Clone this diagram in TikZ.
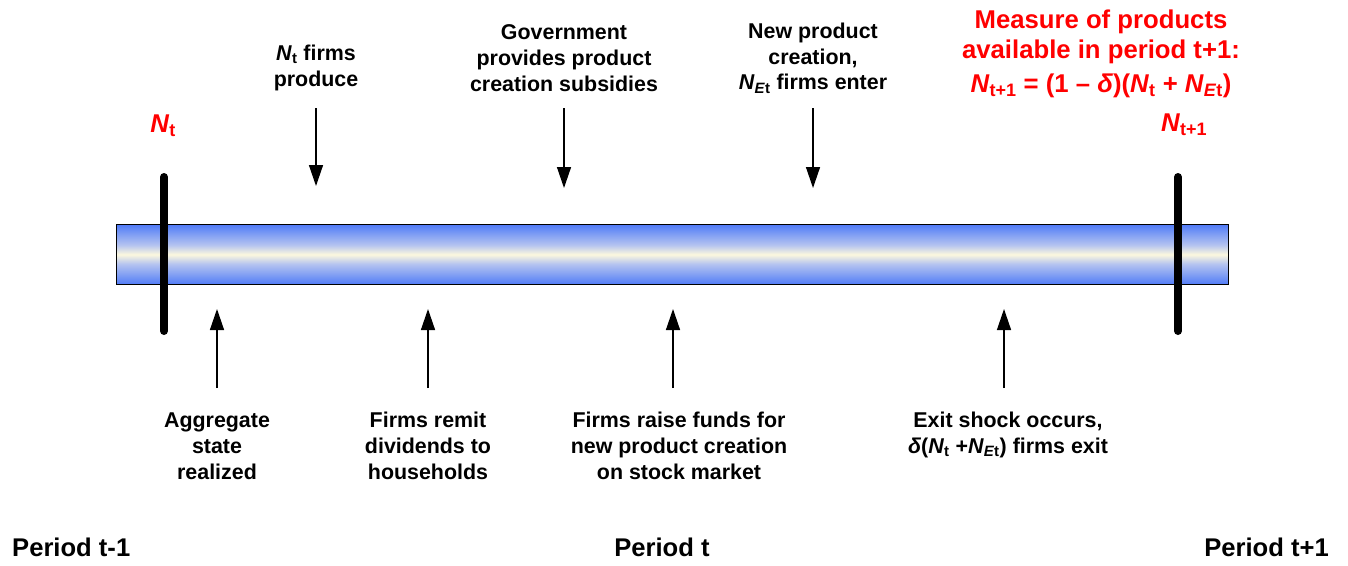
\documentclass[tikz,border=0pt]{standalone}
\usepackage{fontspec}
\setmainfont{Liberation Sans}
\usetikzlibrary{arrows.meta}
\definecolor{barblue}{RGB}{50,100,250}
\definecolor{barlite}{RGB}{110,145,245}
\definecolor{barmid}{RGB}{180,195,240}
\definecolor{barcream}{RGB}{252,248,222}
\definecolor{tred}{RGB}{255,0,0}
\pgfdeclareverticalshading{barshade}{100bp}{
  color(0bp)=(barblue); color(20bp)=(barblue); color(30bp)=(barlite); color(42bp)=(barmid);
  color(50bp)=(barcream); color(58bp)=(barmid); color(70bp)=(barlite); color(80bp)=(barblue); color(100bp)=(barblue)}
\newcommand{\Nv}{\textit{N}}
\newcommand{\Nt}{\textit{N}\textsubscript{t}}
\newcommand{\NEt}{\textit{N}\textsubscript{\textit{E}t}}
\tikzset{
  lbl/.style={align=center, font=\fontsize{21.4}{25.8}\selectfont\bfseries, inner sep=0pt},
  per/.style={font=\fontsize{25.6}{30}\selectfont\bfseries, inner sep=0pt},
  redlbl/.style={align=center, text=tred, font=\fontsize{25.7}{30}\selectfont\bfseries, inner sep=0pt},
  evarrow/.style={line width=1.4pt, -{Triangle[width=14pt,length=21pt]}},
  tick/.style={line width=8pt, line cap=round},
}
\begin{document}
\begin{tikzpicture}[x=1pt,y=-1pt]
\useasboundingbox (0,0) rectangle (1348,565);
% bar
\node[draw=black, line width=1pt, shading=barshade, minimum width=1112pt, minimum height=60pt, inner sep=0pt, anchor=north west] (bar) at (116,224) {};
% period boundaries
\coordinate (L1) at (164,177); \coordinate (L2) at (164,331);
\coordinate (R1) at (1178,177); \coordinate (R2) at (1178,331);
\draw[tick] (L1) -- (L2);
\draw[tick] (R1) -- (R2);
% red labels
\node[redlbl] (nt) at (163,126) {\Nt};
\node[redlbl] (nt1) at (1184,125) {\Nv\textsubscript{t+1}};
\node[redlbl] (meas) at (1101,54) {Measure of products\\available in period t+1:\\[4pt]\Nv\textsubscript{t+1} = (1 -- \textit{δ})(\Nt{} + \NEt)};
% top labels
\node[lbl] (produce) at (316,68) {\Nt{} firms\\produce};
\node[lbl] (gov) at (564,58) {Government\\provides product\\creation subsidies};
\node[lbl] (newp) at (813,58) {New product\\creation,\\\NEt{} firms enter};
\coordinate (a1s) at (316,108); \coordinate (a1e) at (316,186);
\coordinate (a2s) at (564,108); \coordinate (a2e) at (564,188);
\coordinate (a3s) at (813,108); \coordinate (a3e) at (813,188);
\draw[evarrow] (a1s) -- (a1e);
\draw[evarrow] (a2s) -- (a2e);
\draw[evarrow] (a3s) -- (a3e);
% bottom labels
\node[lbl] (agg) at (217,446) {Aggregate\\state\\realized};
\node[lbl] (remit) at (428,446) {Firms remit\\dividends to\\households};
\node[lbl] (raise) at (679,446) {Firms raise funds for\\new product creation\\on stock market};
\node[lbl] (exit) at (1008,435) {Exit shock occurs,\\\textit{δ}(\Nt{} +\NEt) firms exit};
\coordinate (b1s) at (217,388); \coordinate (b1e) at (217,309);
\coordinate (b2s) at (428,388); \coordinate (b2e) at (428,309);
\coordinate (b3s) at (673,388); \coordinate (b3e) at (673,309);
\coordinate (b4s) at (1004,388); \coordinate (b4e) at (1004,309);
\draw[evarrow] (b1s) -- (b1e);
\draw[evarrow] (b2s) -- (b2e);
\draw[evarrow] (b3s) -- (b3e);
\draw[evarrow] (b4s) -- (b4e);
% periods
\node[per, anchor=west] (p1) at (12,547) {Period t-1};
\node[per] (p2) at (662,547) {Period t};
\node[per, anchor=east] (p3) at (1329,547) {Period t+1};
\end{tikzpicture}
\end{document}
